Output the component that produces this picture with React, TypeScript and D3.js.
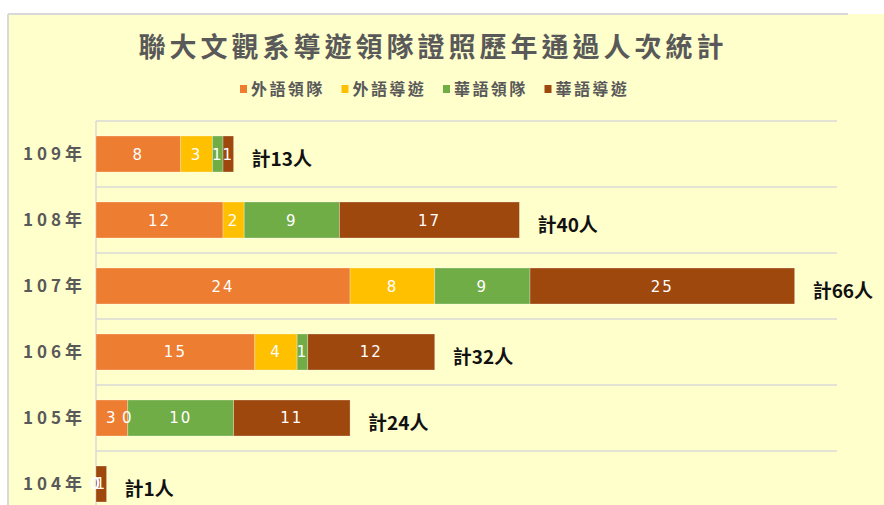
import React from "react";
import * as d3 from "d3";

const years = ["109年", "108年", "107年", "106年", "105年", "104年"];
const seriesNames = ["外語領隊", "外語導遊", "華語領隊", "華語導遊"];
const seriesColors = ["#ED7D31", "#FFC000", "#70AD47", "#9E480E"];
const foreignLeader = [8, 12, 24, 15, 3, 0];
const foreignGuide = [3, 2, 8, 4, 0, 0];
const chineseLeader = [1, 9, 9, 1, 10, 0];
const chineseGuide = [1, 17, 25, 12, 11, 1];
const titleText = "聯大文觀系導遊領隊證照歷年通過人次統計";

const W = 884;
const H = 505;
const CJK = "'Noto Sans CJK TC', 'Noto Sans', sans-serif";

export default function App() {
  const rows = years.map((y, i) => ({
    year: y,
    values: [foreignLeader[i], foreignGuide[i], chineseLeader[i], chineseGuide[i]],
  }));
  const x = d3.scaleLinear().domain([0, 70]).range([96, 837]);
  const yScale = d3
    .scaleBand<string>()
    .domain(years)
    .range([121, 517])
    .paddingInner(0.4545)
    .paddingOuter(0.2273);
  const step = yScale.step();
  const bw = yScale.bandwidth();
  const gridYs = d3.range(years.length + 1).map((i) => 121 + i * step);

  return (
    <svg
      width={W}
      height={H}
      style={{ position: "absolute", left: 0, top: 0, background: "#fff" }}
    >
      <rect x={8} y={14} width={W - 8} height={H - 14} fill="#FFFFCC" />
      <line x1={8} x2={848} y1={14} y2={14} stroke="#D9D9D9" strokeWidth={2} />
      <line x1={8} x2={8} y1={14} y2={H} stroke="#D9D9D9" strokeWidth={2} />

      <text
        x={433}
        y={57}
        textAnchor="middle"
        fontFamily={CJK}
        fontWeight="bold"
        fontSize={27}
        letterSpacing={4}
        fill="#595959"
      >
        {titleText}
      </text>

      {seriesNames.map((n, i) => {
        const sx = 240 + i * 101.5;
        return (
          <g key={n}>
            <rect x={sx} y={85} width={7} height={8} fill={seriesColors[i]} />
            <text
              x={sx + 11}
              y={95}
              fontFamily={CJK}
              fontWeight="bold"
              fontSize={16}
              letterSpacing={2.4}
              fill="#595959"
            >
              {n}
            </text>
          </g>
        );
      })}

      {gridYs.map((gy) => (
        <line key={gy} x1={96} x2={837} y1={gy} y2={gy} stroke="#D9D9D9" strokeWidth={1.5} />
      ))}
      <line x1={96} x2={96} y1={121} y2={H} stroke="#D9D9D9" strokeWidth={1.5} />

      {rows.map((r) => {
        const y0 = yScale(r.year)!;
        const cy = y0 + bw / 2;
        let cum = 0;
        const segs = r.values.map((v, i) => {
          const s = cum;
          cum += v;
          return { v, i, s, e: cum };
        });
        const total = cum;
        return (
          <g key={r.year}>
            <text
              x={86}
              y={cy + 6}
              textAnchor="end"
              fontFamily={CJK}
              fontWeight="bold"
              fontSize={17}
              letterSpacing={4}
              fill="#595959"
            >
              {r.year}
            </text>
            {segs.map((sg) => (
              <rect
                key={sg.i}
                x={x(sg.s)}
                y={y0}
                width={x(sg.e) - x(sg.s)}
                height={bw}
                fill={seriesColors[sg.i]}
                stroke="#ffffff"
                strokeOpacity={0.35}
                strokeWidth={sg.v > 0 ? 0.8 : 0}
              />
            ))}
            {segs.map((sg) => (
              <text
                key={"l" + sg.i}
                x={(x(sg.s) + x(sg.e)) / 2}
                y={cy + 5.5}
                textAnchor="middle"
                fontFamily="'DejaVu Sans', sans-serif"
                fontSize={15}
                letterSpacing={2}
                fill="#ffffff"
              >
                {sg.v}
              </text>
            ))}
            <text
              x={x(total) + 18}
              y={cy + 12}
              fontFamily={CJK}
              fontWeight="bold"
              fontSize={19}
              fill="#111111"
            >
              {"計" + total + "人"}
            </text>
          </g>
        );
      })}
    </svg>
  );
}
